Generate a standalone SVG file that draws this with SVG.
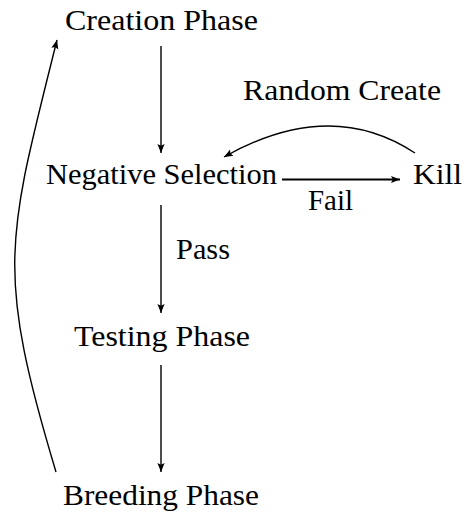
<svg xmlns="http://www.w3.org/2000/svg" width="466" height="512" viewBox="0 0 466 512">
<style>
.c{fill:none;stroke:#000;stroke-width:1.4}
.t{stroke-width:2.2}
.lbl{font-family:"Liberation Serif","Noto Serif","DejaVu Serif",FreeSerif,Georgia,Times,serif;font-size:30px;fill:#000}
</style>
<defs>
<marker id="ah" viewBox="0 0 10 10" refX="10" refY="5" markerWidth="9" markerHeight="9" markerUnits="userSpaceOnUse" orient="auto">
<path d="M0,1 L10,5 L0,9 L2,5 Z" fill="#000"/>
</marker>
</defs>
<rect width="466" height="512" fill="#fff"/>
<g id="creation"><text class="lbl" x="65" y="30" textLength="193" lengthAdjust="spacingAndGlyphs">Creation Phase</text></g>
<g id="negsel"><text class="lbl" x="46" y="184" textLength="231" lengthAdjust="spacingAndGlyphs">Negative Selection</text></g>
<g id="kill"><text class="lbl" x="413" y="184" textLength="49" lengthAdjust="spacingAndGlyphs">Kill</text></g>
<g id="testing"><text class="lbl" x="74" y="346" textLength="176" lengthAdjust="spacingAndGlyphs">Testing Phase</text></g>
<g id="breeding"><text class="lbl" x="63" y="505" textLength="196" lengthAdjust="spacingAndGlyphs">Breeding Phase</text></g>
<g id="connectors">
<path class="c" d="M161,46 L161,153" marker-end="url(#ah)"/>
<path class="c" d="M161,205 L161,313" marker-end="url(#ah)"/>
<path class="c" d="M161,365 L161,472" marker-end="url(#ah)"/>
<path class="c t" d="M282,179.5 L400,179.5" marker-end="url(#ah)"/>
<path class="c" d="M415,153 Q330,97 224,157" marker-end="url(#ah)"/>
<path class="c" d="M56,472 C-5,269 7,240 57,40" marker-end="url(#ah)"/>
<text class="lbl" x="243" y="100" textLength="198" lengthAdjust="spacingAndGlyphs">Random Create</text>
<text class="lbl" x="308" y="210" textLength="45" lengthAdjust="spacingAndGlyphs">Fail</text>
<text class="lbl" x="176" y="259" textLength="54" lengthAdjust="spacingAndGlyphs">Pass</text>
</g>
</svg>
